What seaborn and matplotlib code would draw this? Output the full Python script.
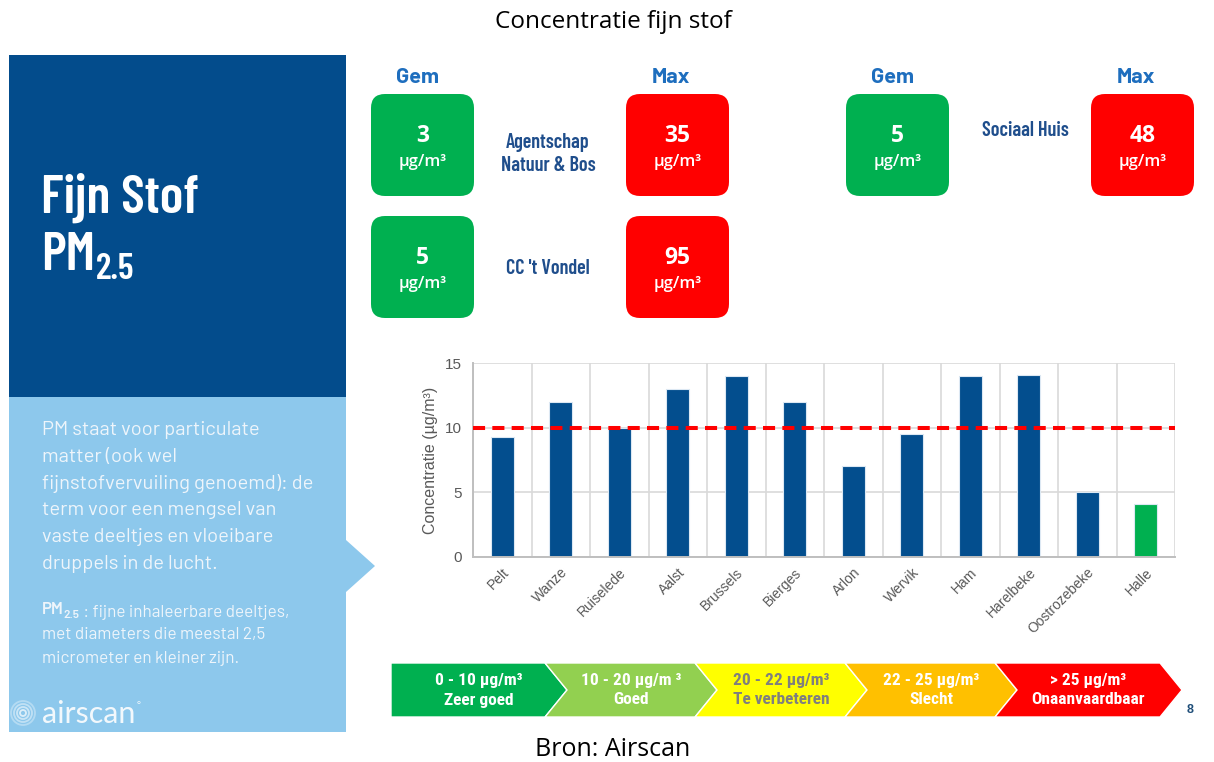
import matplotlib
matplotlib.use("Agg")
import matplotlib.pyplot as plt
import seaborn as sns
import pandas as pd
import numpy as np
from matplotlib import font_manager
from matplotlib.patches import FancyBboxPatch, Polygon, Rectangle, Circle

# ---------------- data ----------------
stations = ["Pelt", "Wanze", "Ruiselede", "Aalst", "Brussels", "Bierges",
            "Arlon", "Wervik", "Ham", "Harelbeke", "Oostrozebeke", "Halle"]
concentration = [9.3, 12.0, 10.0, 13.0, 14.0, 12.0, 7.0, 9.5, 14.0, 14.1, 5.0, 4.1]
bar_colors = ["#034E8E"] * 11 + ["#00B050"]
threshold = 10
y_ticks = [0, 5, 10, 15]

site_names = ["Agentschap\nNatuur & Bos", "CC 't Vondel", "Sociaal Huis"]
site_mean = [3, 5, 5]
site_max = [35, 95, 48]
unit = "µg/m³"

band_ranges = ["0 - 10 µg/m³", "10 - 20 µg/m ³", "20 - 22 µg/m³", "22 - 25 µg/m³", "> 25 µg/m³"]
band_labels = ["Zeer goed", "Goed", "Te verbeteren", "Slecht", "Onaanvaardbaar"]
band_colors = ["#00B050", "#92D050", "#FFFF00", "#FFC000", "#FF0000"]
band_text_colors = ["white", "white", "#7F7F7F", "white", "white"]

para1 = ["PM staat voor particulate", "matter (ook wel", "fijnstofvervuiling genoemd): de",
         "term voor een mengsel van", "vaste deeltjes en vloeibare", "druppels in de lucht."]
para2 = [" : fijne inhaleerbare deeltjes,", "met diameters die meestal 2,5",
         "micrometer en kleiner zijn."]

# ---------------- fonts ----------------
sns.set_theme(style="white")
avail = {f.name for f in font_manager.fontManager.ttflist}


def pick(*names):
    for n in names:
        if n in avail:
            return n
    return "DejaVu Sans"


COND = pick("Barlow Condensed", "Roboto Condensed", "Liberation Sans Narrow")
BAND = pick("Roboto Condensed", "Barlow Condensed", "Liberation Sans Narrow")
BODY = pick("Barlow", "Lato", "Inter")
HEAD = pick("Barlow", "Roboto", "Open Sans")
LOGO = pick("Lato", "Barlow", "Inter")
ARIAL = pick("Liberation Sans", "DejaVu Sans")
OPEN = pick("Open Sans", "Noto Sans")
plt.rcParams["font.family"] = [ARIAL, "DejaVu Sans"]

DARK = "#034C8C"
LIGHT = "#8DC8EC"
W, H = 1214, 762

fig = plt.figure(figsize=(W / 100, H / 100), dpi=100)
bg = fig.add_axes([0, 0, 1, 1])
bg.set_xlim(0, W)
bg.set_ylim(H, 0)
bg.axis("off")

# title and source
bg.text(613, 22, "Concentratie fijn stof", ha="center", va="center", fontsize=17.5, family=OPEN, color="black")
bg.text(613, 750, "Bron: Airscan", ha="center", va="center", fontsize=18, family=OPEN, color="black")

# left panels
bg.add_patch(Rectangle((9, 55), 337, 342, color=DARK, lw=0))
bg.add_patch(Polygon([(9, 397), (346, 397), (346, 540), (375, 566), (346, 592), (346, 732), (9, 732)],
                     closed=True, color=LIGHT, lw=0))
bg.text(41, 213, "Fijn Stof", fontsize=39, weight="semibold", family=COND, color="white", va="baseline")
pm = bg.text(41, 270, "PM", fontsize=39, weight="semibold", family=COND, color="white", va="baseline")
bg.annotate("2.5", xy=(1, 0), xycoords=pm, xytext=(0.5, 1), textcoords="offset points",
            fontsize=26, weight="semibold", family=COND, color="white", va="baseline", ha="left")

TXT = "#EEF5FB"
for i, line in enumerate(para1):
    bg.text(42, 430 + i * 26.8, line, fontsize=14.5, family=BODY, weight="normal", color=TXT, va="center")
pm2 = bg.text(42, 609, "PM", fontsize=12, family=BODY, weight="semibold", color=TXT, va="center")
sub = bg.annotate("2.5", xy=(1, 0.1), xycoords=pm2, fontsize=8.5, family=BODY, weight="semibold",
                  color=TXT, va="center", ha="left")
bg.annotate(para2[0], xy=(1, 0.8), xycoords=sub, fontsize=12.3, family=BODY, weight="normal",
            color=TXT, va="center", ha="left")
for i, line in enumerate(para2[1:]):
    bg.text(42, 634 + i * 24, line, fontsize=12.3, family=BODY, weight="normal", color=TXT, va="center")

# airscan logo
for r, a in [(12, 0.35), (9, 0.45), (6, 0.55), (3, 0.7)]:
    bg.add_patch(Circle((23, 713), r, fill=False, ec="white", lw=1.3, alpha=a))
logo = bg.text(42, 714, "airscan", fontsize=22, family=LOGO, weight="normal", color="#F2F8FC",
               va="center", ha="left")
bg.annotate("°", xy=(1, 0.8), xycoords=logo, xytext=(1, 0), textcoords="offset points",
            fontsize=7, family=LOGO, color="#F2F8FC", va="center", ha="left")

# site boxes
groups = [(371, 626, 548), (846, 1091, 1025)]
rows = [94, 216]
site_layout = [(0, 0, 154), (0, 1, 268), (1, 0, 130)]
BW, BH = 103, 102
for gi, (gx, rx, lx) in enumerate(groups):
    bg.text(gx + BW / 2 - 5, 77.5, "Gem", ha="center", va="center", fontsize=15.5, weight="bold",
            color="#1E6EBE", family=HEAD)
    bg.text(rx + BW / 2 - 7, 77.5, "Max", ha="center", va="center", fontsize=15.5, weight="bold",
            color="#1E6EBE", family=HEAD)
for name, mean, mx, (g, r, ly) in zip(site_names, site_mean, site_max, site_layout):
    gx, rx, lx = groups[g]
    y0 = rows[r]
    for x0, col, val in [(gx, "#00B050", mean), (rx, "#FF0000", mx)]:
        bg.add_patch(FancyBboxPatch((x0, y0), BW, BH, boxstyle="round,pad=0,rounding_size=14",
                                    fc=col, ec="none"))
        bg.text(x0 + BW / 2, y0 + 42, str(val), ha="center", va="center", fontsize=16.5,
                weight="bold", color="white", family=OPEN)
        bg.text(x0 + BW / 2, y0 + 68, unit, ha="center", va="center", fontsize=12,
                weight="semibold", color="white", family=OPEN)
    bg.text(lx, ly, name, ha="center", va="center", fontsize=14.5, weight="semibold",
            color="#1F4E8C", family=COND, linespacing=1.25)

# quality band (chevrons)
edges = [391, 545, 695, 845, 995, 1160]
top, bot, d = 663, 717, 22
mid = (top + bot) / 2
for i, (lab1, lab2, col, tc) in enumerate(zip(band_ranges, band_labels, band_colors, band_text_colors)):
    xl, xr = edges[i], edges[i + 1]
    pts = [(xl, top), (xr, top), (xr + d, mid), (xr, bot), (xl, bot)]
    if i > 0:
        pts.append((xl + d, mid))
    bg.add_patch(Polygon(pts, closed=True, fc=col, ec="white", lw=1))
    cx = (xl + xr) / 2 + (d / 2 if i > 0 else 11)
    bg.text(cx, 681, lab1, ha="center", va="center", fontsize=12.5, weight="bold", color=tc, family=BAND)
    bg.text(cx, 700, lab2, ha="center", va="center", fontsize=12.5, weight="bold", color=tc, family=BAND)
bg.text(1190, 710, "8", ha="center", va="center", fontsize=9, weight="bold", color="#1F4E79")

# ---------------- bar chart ----------------
ax = fig.add_axes([473 / W, 1 - 557 / H, (1175 - 473) / W, (557 - 363) / H])
df = pd.DataFrame({"station": stations, "conc": concentration})
sns.barplot(data=df, x="station", y="conc", hue="station", palette=bar_colors, legend=False,
            width=0.4, saturation=1, edgecolor="#DCE8F3", linewidth=0.8, ax=ax, zorder=2)
ax.set_xlim(-0.5, len(stations) - 0.5)
ax.set_ylim(0, 15)
ax.set_yticks(y_ticks)
ax.set_xticks(np.arange(-0.5, len(stations), 1), minor=True)
ax.set_xticks(range(len(stations)))
ax.set_xticklabels(stations, rotation=45, ha="right", rotation_mode="anchor",
                   fontsize=10, color="#595959", family=ARIAL)
for t in ax.get_yticklabels():
    t.set_color("#595959")
    t.set_fontsize(11)
    t.set_family(ARIAL)
ax.tick_params(axis="x", which="major", length=0, pad=6)
ax.tick_params(axis="x", which="minor", length=5, color="#BFBFBF", width=1.2, direction="out")
ax.tick_params(axis="y", length=5, color="#BFBFBF", width=1.2, direction="out", pad=3)
ax.grid(which="minor", axis="x", color="#D9D9D9", lw=1.2, zorder=0)
ax.grid(which="major", axis="y", color="#D9D9D9", lw=1.2, zorder=0)
ax.grid(which="major", axis="x", visible=False)
ax.set_axisbelow(True)
ax.axhline(threshold, color="#FF0000", ls=(0, (3, 1.8)), lw=2.9, zorder=4)
for s in ["top", "right"]:
    ax.spines[s].set_visible(False)
for s in ["left", "bottom"]:
    ax.spines[s].set_color("#BFBFBF")
    ax.spines[s].set_linewidth(1.4)
ax.set_xlabel("")
ax.set_ylabel("Concentratie (µg/m³)", fontsize=11.5, color="#595959", family=ARIAL, labelpad=5)
ax.patch.set_alpha(0)

fig.savefig("out.png", dpi=100)
